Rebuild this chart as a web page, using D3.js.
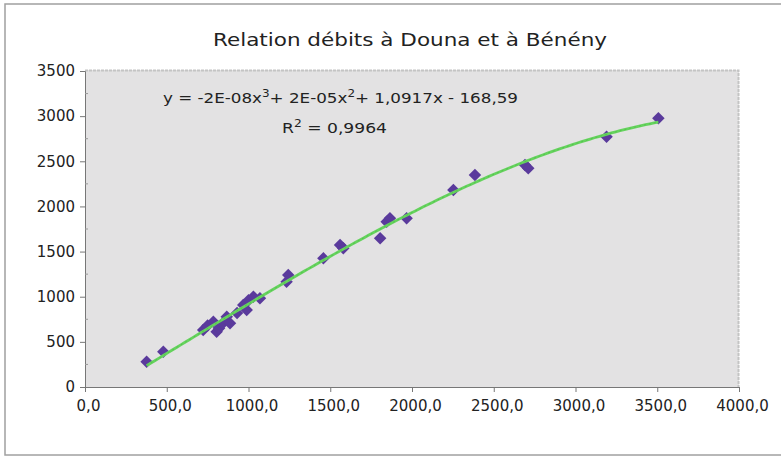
<!DOCTYPE html>
<html>
<head>
<meta charset="utf-8">
<script src="https://cdn.jsdelivr.net/npm/d3@7"></script>
<style>
  html, body { margin: 0; padding: 0; background: #fff; }
  svg { display: block; }
  text { font-family: "DejaVu Sans", sans-serif; fill: #222; }
</style>
</head>
<body>
<svg id="chart" width="781" height="458"></svg>
<script>
// Débits mesurés : Douna (x) et Bénény (y)
const debitDouna = [377, 479, 723, 750, 785, 805, 820, 840, 867, 887, 930, 968, 989, 1000, 1030, 1070,
                    1233, 1243, 1458, 1560, 1580, 1805, 1845, 1865, 1967, 2253, 2385, 2691, 2711, 3190, 3507];
const debitBeneny = [280, 391, 632, 680, 723, 612, 650, 700, 778, 705, 820, 908, 853, 960, 1000, 982,
                     1166, 1240, 1425, 1572, 1536, 1647, 1831, 1868, 1868, 2182, 2348, 2458, 2422, 2772, 2976];

const xTicks = [0, 500, 1000, 1500, 2000, 2500, 3000, 3500, 4000];
const yTicks = [0, 500, 1000, 1500, 2000, 2500, 3000, 3500];

const titre = "Relation débits à Douna et à Bénény";

const svg = d3.select("#chart");

// cadre extérieur
svg.append("rect").attr("x", 5).attr("y", 4).attr("width", 800).attr("height", 451)
  .attr("fill", "#fff").attr("stroke", "#a0a0a0").attr("stroke-width", 1.5);

const x = d3.scaleLinear().domain([0, 4000]).range([85, 739]);
const y = d3.scaleLinear().domain([0, 3500]).range([387, 71]);

// zone de tracé
svg.append("rect").attr("x", 85).attr("y", 70).attr("width", 654).attr("height", 317)
  .attr("fill", "#e3e2e3");
svg.append("path").attr("d", "M85,70.5H738.5V387")
  .attr("fill", "none").attr("stroke", "#c4c4c4").attr("stroke-width", 2)
  .attr("stroke-dasharray", "3,1");

// axes
const fmtX = v => d3.format(".1f")(v).replace(".", ",");
const xAxis = d3.axisBottom(x).tickValues(xTicks).tickSize(5).tickFormat(fmtX);
const yAxis = d3.axisLeft(y).tickValues(yTicks).tickSize(5).tickFormat(d3.format("d"));

const gx = svg.append("g").attr("transform", "translate(0,387)").call(xAxis);
const gy = svg.append("g").attr("transform", "translate(85,0)").call(yAxis);
[gx, gy].forEach(g => {
  g.select(".domain").attr("stroke", "#777");
  g.selectAll(".tick line").attr("stroke", "#777");
  g.selectAll(".tick text").attr("font-size", 15).attr("fill", "#222")
    .attr("font-family", "'DejaVu Sans', sans-serif");
});
gx.selectAll(".tick text").attr("dx", 3).attr("dy", "1.05em");
gy.selectAll(".tick text").attr("dx", -2);

// graduations secondaires de l'axe vertical
svg.append("g").selectAll("line")
  .data(d3.range(250, 3500, 500)).join("line")
  .attr("x1", 85).attr("x2", 88).attr("y1", d => y(d)).attr("y2", d => y(d))
  .attr("stroke", "#999");

// courbe de tendance polynomiale d'ordre 3 (moindres carrés)
function fitCubic(xs, ys) {
  const n = 4, s = 1000;
  const A = Array.from({length: n}, () => new Array(n + 1).fill(0));
  xs.forEach((xv, k) => {
    const t = xv / s;
    const p = [1, t, t * t, t * t * t];
    for (let i = 0; i < n; i++) {
      for (let j = 0; j < n; j++) A[i][j] += p[i] * p[j];
      A[i][n] += p[i] * ys[k];
    }
  });
  for (let c = 0; c < n; c++) {
    let piv = c;
    for (let r = c + 1; r < n; r++) if (Math.abs(A[r][c]) > Math.abs(A[piv][c])) piv = r;
    [A[c], A[piv]] = [A[piv], A[c]];
    for (let r = 0; r < n; r++) {
      if (r === c) continue;
      const f = A[r][c] / A[c][c];
      for (let j = c; j <= n; j++) A[r][j] -= f * A[c][j];
    }
  }
  const b = A.map((row, i) => row[n] / row[i]);
  return xv => { const t = xv / s; return b[0] + b[1] * t + b[2] * t * t + b[3] * t * t * t; };
}
const tendance = fitCubic(debitDouna, debitBeneny);
const [xmin, xmax] = d3.extent(debitDouna);
const xsTrend = d3.range(xmin, xmax, (xmax - xmin) / 120).concat([xmax]);

// points
const diamond = d3.symbol().type(d3.symbolSquare).size(78);
svg.append("g").selectAll("path")
  .data(debitDouna.map((d, i) => [d, debitBeneny[i]])).join("path")
  .attr("d", diamond)
  .attr("transform", d => `translate(${x(d[0])},${y(d[1])}) rotate(45)`)
  .attr("fill", "#5a3a9c");

svg.append("path")
  .datum(xsTrend)
  .attr("d", d3.line().x(d => x(d)).y(d => y(tendance(d))))
  .attr("fill", "none").attr("stroke", "#66d35e").attr("stroke-width", 2.8);
svg.append("path")
  .datum(xsTrend)
  .attr("d", d3.line().x(d => x(d)).y(d => y(tendance(d))))
  .attr("fill", "none").attr("stroke", "#3fae3a").attr("stroke-width", 0.8)
  .attr("stroke-dasharray", "2,3").attr("opacity", 0.6);

// titre
svg.append("text").attr("x", 410).attr("y", 46).attr("text-anchor", "middle")
  .attr("font-size", 17).attr("textLength", 394).attr("lengthAdjust", "spacingAndGlyphs")
  .text(titre);

// équation et coefficient de détermination
const eq = svg.append("text").attr("x", 163).attr("y", 103).attr("font-size", 14)
  .attr("textLength", 355).attr("lengthAdjust", "spacingAndGlyphs");
eq.append("tspan").text("y = -2E-08x");
eq.append("tspan").attr("dy", -6).attr("font-size", 10).text("3");
eq.append("tspan").attr("dy", 6).text("+ 2E-05x");
eq.append("tspan").attr("dy", -6).attr("font-size", 10).text("2");
eq.append("tspan").attr("dy", 6).text("+ 1,0917x - 168,59");

const r2 = svg.append("text").attr("x", 282).attr("y", 133).attr("font-size", 14)
  .attr("textLength", 105).attr("lengthAdjust", "spacingAndGlyphs");
r2.append("tspan").text("R");
r2.append("tspan").attr("dy", -6).attr("font-size", 10).text("2");
r2.append("tspan").attr("dy", 6).text(" = 0,9964");
</script>
</body>
</html>
